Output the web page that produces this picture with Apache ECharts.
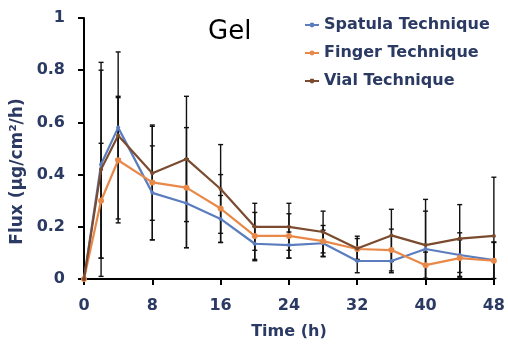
<!DOCTYPE html>
<html>
<head>
<meta charset="utf-8">
<script src="https://cdn.jsdelivr.net/npm/echarts@6/dist/echarts.min.js"></script>
<style>
  html, body { margin: 0; padding: 0; background: #fff; }
  #chart { width: 508px; height: 345px; }
</style>
</head>
<body>
<div id="chart"></div>
<script>
// Sampling times (h)
const times = [0, 2, 4, 8, 12, 16, 20, 24, 28, 32, 36, 40, 44, 48];

// Mean flux (µg/cm²/h) per application technique
const spatulaMean = [0, 0.44, 0.58, 0.33, 0.29, 0.23, 0.135, 0.13, 0.137, 0.069, 0.069, 0.115, 0.092, 0.072];
const fingerMean  = [0, 0.30, 0.455, 0.37, 0.35, 0.27, 0.165, 0.165, 0.145, 0.115, 0.111, 0.053, 0.08, 0.07];
const vialMean    = [0, 0.42, 0.55, 0.405, 0.46, 0.345, 0.20, 0.20, 0.18, 0.117, 0.167, 0.13, 0.155, 0.165];

// Standard deviations
const spatulaSD = [0, 0.36, 0.12, 0.18, 0.17, 0.09, 0.065, 0.05, 0.05, 0.045, 0.045, 0.19, 0.085, 0.07];
const fingerSD  = [0, 0.22, 0.24, 0.22, 0.23, 0.13, 0.09, 0.085, 0.06, 0.04, 0.08, 0.05, 0.07, 0.07];
const vialSD    = [0, 0.41, 0.32, 0.18, 0.24, 0.17, 0.09, 0.09, 0.08, 0.047, 0.10, 0.13, 0.13, 0.225];

const seriesNames = ['Spatula Technique', 'Finger Technique', 'Vial Technique'];
const yTicks = ['0', '0.2', '0.4', '0.6', '0.8', '1'];

const NAVY = '#2B3A62';
const COLORS = ['#5B7DBE', '#E8894A', '#7A4B2F'];
const FONT = 'DejaVu Sans';

const means = [spatulaMean, fingerMean, vialMean];
const sds = [spatulaSD, fingerSD, vialSD];

function pairs(vals) {
  return times.map((t, i) => [t, vals[i]]);
}

function errorData(vals, sd) {
  return times.map((t, i) => [t, vals[i], sd[i]]);
}

// Vertical error bar with short caps, cut off at the x-axis
function renderErrorBar(params, api) {
  const x = api.value(0), m = api.value(1), s = api.value(2);
  if (!s) return null;
  const lo = Math.max(0, m - s), hi = m + s;
  const pHi = api.coord([x, hi]);
  const pLo = api.coord([x, lo]);
  const cap = 2.5;
  const style = { stroke: '#111', lineWidth: 1.4 };
  const children = [
    { type: 'line', shape: { x1: pHi[0], y1: pHi[1], x2: pLo[0], y2: pLo[1] }, style },
    { type: 'line', shape: { x1: pHi[0] - cap, y1: pHi[1], x2: pHi[0] + cap, y2: pHi[1] }, style }
  ];
  if (m - s > 0) {
    children.push({ type: 'line', shape: { x1: pLo[0] - cap, y1: pLo[1], x2: pLo[0] + cap, y2: pLo[1] }, style });
  }
  return { type: 'group', children };
}

const series = [];
means.forEach((vals, k) => {
  series.push({
    type: 'custom',
    name: seriesNames[k] + ' SD',
    renderItem: renderErrorBar,
    data: errorData(vals, sds[k]),
    z: 1,
    silent: true
  });
});
means.forEach((vals, k) => {
  series.push({
    type: 'line',
    name: seriesNames[k],
    data: pairs(vals),
    symbol: 'circle',
    symbolSize: k === 1 ? 6 : 4,
    showSymbol: true,
    lineStyle: { color: COLORS[k], width: 2.2 },
    itemStyle: { color: COLORS[k] },
    z: 3 + k
  });
});

const chart = echarts.init(document.getElementById('chart'), null, { renderer: 'canvas' });
chart.setOption({
  animation: false,
  backgroundColor: '#fff',
  grid: { left: 84, right: 12, top: 18, bottom: 65, containLabel: false },
  legend: {
    data: seriesNames,
    orient: 'vertical',
    left: 299,
    top: 12,
    itemWidth: 14,
    itemHeight: 6,
    itemGap: 12,
    textStyle: { color: NAVY, fontFamily: FONT, fontWeight: 'bold', fontSize: 16 }
  },
  graphic: [
    {
      type: 'text',
      left: 208,
      top: 19,
      style: { text: 'Gel', fill: '#000', font: '26px "DejaVu Sans"' }
    }
  ],
  xAxis: {
    type: 'value',
    min: 0,
    max: 48,
    interval: 8,
    name: 'Time (h)',
    nameLocation: 'middle',
    nameGap: 45,
    nameTextStyle: { color: NAVY, fontFamily: FONT, fontWeight: 'bold', fontSize: 16 },
    axisLine: { lineStyle: { color: '#000', width: 2 } },
    axisTick: { show: true, length: 6, lineStyle: { color: '#000', width: 2 } },
    axisLabel: { color: NAVY, fontFamily: FONT, fontWeight: 'bold', fontSize: 16, margin: 19 },
    splitLine: { show: false }
  },
  yAxis: {
    type: 'value',
    min: 0,
    max: 1,
    interval: 0.2,
    name: 'Flux (µg/cm²/h)',
    nameLocation: 'middle',
    nameGap: 48,
    nameTextStyle: { color: NAVY, fontFamily: FONT, fontWeight: 'bold', fontSize: 17, padding: [0, 46, 0, 0] },
    axisLine: { show: true, lineStyle: { color: '#000', width: 2 } },
    axisTick: { show: true, length: 6, lineStyle: { color: '#000', width: 2 } },
    axisLabel: {
      color: NAVY, fontFamily: FONT, fontWeight: 'bold', fontSize: 16, margin: 19,
      formatter: (v) => yTicks[Math.round(v / 0.2)]
    },
    splitLine: { show: false }
  },
  series
});
</script>
</body>
</html>
